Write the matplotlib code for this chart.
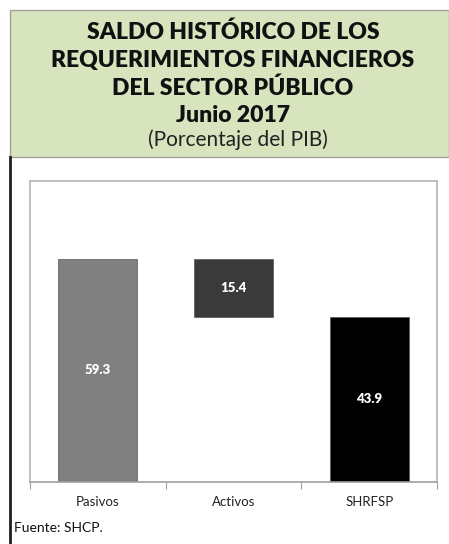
import matplotlib
matplotlib.use("Agg")
import matplotlib.pyplot as plt
from matplotlib.patches import Rectangle
from matplotlib.lines import Line2D

categorias = ["Pasivos", "Activos", "SHRFSP"]
valores = [59.3, 15.4, 43.9]
bases = [0, 59.3 - 15.4, 0]
colores = ["#808080", "#3a3a3a", "#000000"]

plt.rcParams['font.family'] = ['Lato', 'DejaVu Sans']

fig = plt.figure(figsize=(4.49, 5.44), dpi=100)
W, H = 449, 544

# fondo verde del titulo
fig.patches.append(Rectangle((10 / W, 1 - 157 / H), 1 - 10 / W, (157 - 10) / H,
                             transform=fig.transFigure, facecolor="#d7e4bd",
                             edgecolor="#a0a0a0", linewidth=1, zorder=0))
# linea negra a la izquierda
fig.lines.append(Line2D([10 / W, 10 / W], [0, 1 - 157 / H], transform=fig.transFigure,
                        color="#202020", linewidth=2))

titulo = ["SALDO HISTÓRICO DE LOS", "REQUERIMIENTOS FINANCIEROS",
          "DEL SECTOR PÚBLICO", "Junio 2017"]
ys = [32, 61, 88, 115]
for t, y in zip(titulo, ys):
    fig.text(233 / W, 1 - y / H, t, ha="center", va="center",
             fontsize=16.5, fontweight="heavy", color="#111111")
fig.text(238 / W, 1 - 140 / H, "(Porcentaje del PIB)", ha="center", va="center",
         fontsize=15, color="#222222")

ax = fig.add_axes([30 / W, 1 - 482 / H, 407 / W, 301 / H])
x = list(range(len(categorias)))
barras = ax.bar(x, valores, bottom=bases, width=0.58, color=colores,
                edgecolor="#555555", linewidth=0.5)
for xi, v, b in zip(x, valores, bases):
    ax.text(xi, b + v / 2, f"{v:.1f}", ha="center", va="center",
            color="white", fontsize=9.5, fontweight="heavy")

ax.set_xlim(-0.5, 2.5)
ax.set_ylim(0, 80)
ax.set_yticks([])
ax.set_xticks([-0.5, 0.5, 1.5, 2.5])
ax.set_xticklabels([])
ax.set_xticks(x, minor=True)
ax.set_xticklabels(categorias, minor=True, fontsize=9.5, color="#222222")
ax.tick_params(axis="x", which="major", length=5, color="#a0a0a0", direction="out")
ax.tick_params(axis="x", which="minor", length=0, pad=10)
for s in ax.spines.values():
    s.set_color("#b5b5b5")
    s.set_linewidth(1.2)
ax.spines["bottom"].set_color("#a0a0a0")

fig.text(14 / W, 1 - 528 / H, "Fuente: SHCP.", ha="left", va="center",
         fontsize=10, color="#111111")

fig.savefig("out.png", dpi=100)
